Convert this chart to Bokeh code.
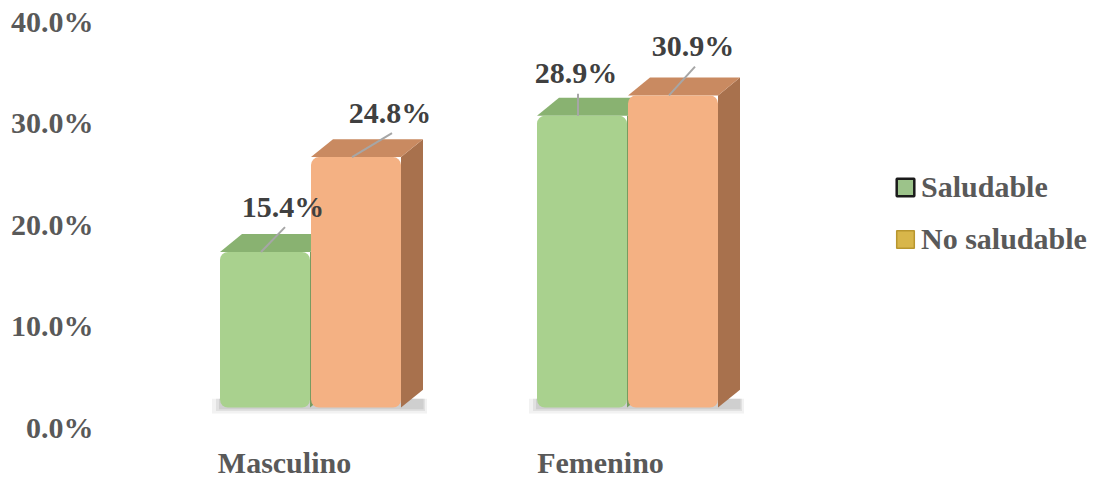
from bokeh.plotting import figure
from bokeh.models import (Range1d, LinearAxis, FixedTicker, PrintfTickFormatter,
                          Legend, LegendItem)
from bokeh.embed import file_html
from bokeh.resources import INLINE
from bokeh.core.properties import value

# ---------------- data ----------------
categories = ["Masculino", "Femenino"]
series = ["Saludable", "No saludable"]
saludable = [15.4, 28.9]
no_saludable = [24.8, 30.9]
y_ticks = [0, 10, 20, 30, 40]

# ---------------- styles / layout (pixels) ----------------
W, H = 1103, 481
FL = 103          # frame left
FB = 432          # frame bottom (from top)
X0 = 310          # pixel of first category centre (bars)
PX_X = 317.0      # pixels per category step
Y0_BAR = 409      # pixel of 0 for bar front faces
PX_Y = 10.15      # pixels per percent (bars)
Y0_AX = 429       # pixel of 0.0% axis label
AX_PX_Y = 10.2    # pixels per percent (axis labels)
CAT_X0 = 284      # pixel of first category label
CAT_STEP = 316.0

BW = 90 / PX_X            # bar width
GAP = 0.5 / PX_X
DX = 22 / PX_X            # 3D depth
DY = 18 / PX_Y

front_cols = ["#A9D18E", "#F4B183"]
top_cols = ["#89B271", "#C98A61"]
side_cols = ["#779C61", "#A8714D"]
legend_fill = ["#9CC38A", "#D8B64A"]
legend_line = ["#1a1a1a", "#B8962E"]
legend_lw = [2.5, 1.5]
font = "Liberation Serif"

# label offsets (px right, px down) relative to bar front-top centre
label_off = [[(18, -46), (-6, -43)], [(34, -45), (20, -50)]]

p = figure(width=W, height=H, output_backend="svg", toolbar_location=None,
           x_axis_type=None, y_axis_type=None,
           min_border_left=FL, min_border_right=0, min_border_top=0,
           min_border_bottom=H - FB,
           x_range=Range1d((FL - X0) / PX_X, (W - X0) / PX_X),
           y_range=Range1d(-(FB - Y0_BAR) / PX_Y, Y0_BAR / PX_Y))
p.outline_line_color = None
p.background_fill_color = "white"
p.border_fill_color = "white"

p.extra_y_ranges = {"axis": Range1d(-(FB - Y0_AX) / AX_PX_Y, Y0_AX / AX_PX_Y)}
p.extra_x_ranges = {"cat": Range1d((FL - CAT_X0) / CAT_STEP, (W - CAT_X0) / CAT_STEP)}

values = [saludable, no_saludable]
centers_all = []
for s, vals in enumerate(values):
    sign = -1 if s == 0 else 1
    centers_all.append([i + sign * (BW / 2 + GAP) for i in range(len(categories))])

# soft floor shadow under each category's pair of bars
n = len(categories)
for k, (alpha, grow) in enumerate([(0.10, 8), (0.14, 4), (0.18, 1)]):
    p.quad(left=[centers_all[0][i] - BW / 2 - grow / PX_X for i in range(n)],
           right=[centers_all[1][i] + BW / 2 + DX + grow / 2 / PX_X for i in range(n)],
           bottom=[-(grow * 0.6 + 1) / PX_Y] * n, top=[DY * 0.5] * n,
           fill_color="#7f7f7f", fill_alpha=alpha, line_color=None)

legend_renderers = []
for s, vals in enumerate(values):
    c = centers_all[s]
    xl = [x - BW / 2 for x in c]
    xr = [x + BW / 2 for x in c]
    # legend-style renderer, hidden behind the front face
    legend_renderers.append(
        p.vbar(x=c, top=[v - 1 for v in vals], bottom=1, width=BW * 0.8,
               fill_color=legend_fill[s], line_color=legend_line[s],
               line_width=legend_lw[s]))
    side_xs = [[r, r + DX, r + DX, r] for r in xr]
    side_ys = [[0, DY, v + DY, v] for v in vals]
    p.patches(side_xs, side_ys, fill_color=side_cols[s], line_color=None)
    top_xs = [[l, r, r + DX, l + DX] for l, r in zip(xl, xr)]
    top_ys = [[v, v, v + DY, v + DY] for v in vals]
    p.patches(top_xs, top_ys, fill_color=top_cols[s], line_color=None)
    p.vbar(x=c, top=vals, bottom=0, width=BW, fill_color=front_cols[s],
           line_color=None, border_radius=8)

# data labels and leader lines
for s, vals in enumerate(values):
    c = centers_all[s]
    lx = [x + label_off[s][i][0] / PX_X for i, x in enumerate(c)]
    ly = [v - label_off[s][i][1] / PX_Y for i, v in enumerate(vals)]
    p.segment(x0=[x - 4 / PX_X for x in c], y0=vals,
              x1=[x + 2 / PX_X for x in lx], y1=[y - 21 / PX_Y for y in ly],
              line_color="#A6A6A6", line_width=2)
    p.text(x=lx, y=ly, text=[f"{v:.1f}%" for v in vals],
           text_align="center", text_baseline="middle",
           text_font=value(font), text_font_style="bold", text_font_size="30px",
           text_color="#404040")

# axes
yaxis = LinearAxis(y_range_name="axis", ticker=FixedTicker(ticks=y_ticks),
                   formatter=PrintfTickFormatter(format="%.1f%%"))
yaxis.axis_line_color = None
yaxis.major_tick_line_color = None
yaxis.minor_tick_line_color = None
yaxis.major_tick_out = 0
yaxis.major_tick_in = 0
yaxis.major_label_standoff = 10
yaxis.major_label_text_font = font
yaxis.major_label_text_font_style = "bold"
yaxis.major_label_text_font_size = "30px"
yaxis.major_label_text_color = "#595959"
p.add_layout(yaxis, "left")

xaxis = LinearAxis(x_range_name="cat", ticker=FixedTicker(ticks=list(range(n))),
                   major_label_overrides={i: c for i, c in enumerate(categories)})
xaxis.axis_line_color = None
xaxis.major_tick_line_color = None
xaxis.minor_tick_line_color = None
xaxis.major_tick_out = 0
xaxis.major_tick_in = 0
xaxis.major_label_standoff = 15
xaxis.major_label_text_font = font
xaxis.major_label_text_font_style = "bold"
xaxis.major_label_text_font_size = "30px"
xaxis.major_label_text_color = "#595959"
p.add_layout(xaxis, "below")

legend = Legend(items=[LegendItem(label=series[s], renderers=[legend_renderers[s]], index=0)
                       for s in range(len(series))],
                location=(791, 174), glyph_width=22, glyph_height=22,
                label_standoff=5, spacing=18, label_height=34,
                label_text_font=font, label_text_font_style="bold",
                label_text_font_size="30px", label_text_color="#595959",
                border_line_color=None, background_fill_alpha=0,
                padding=0, margin=0)
p.add_layout(legend)

open("out.html", "w").write(file_html(p, INLINE))
